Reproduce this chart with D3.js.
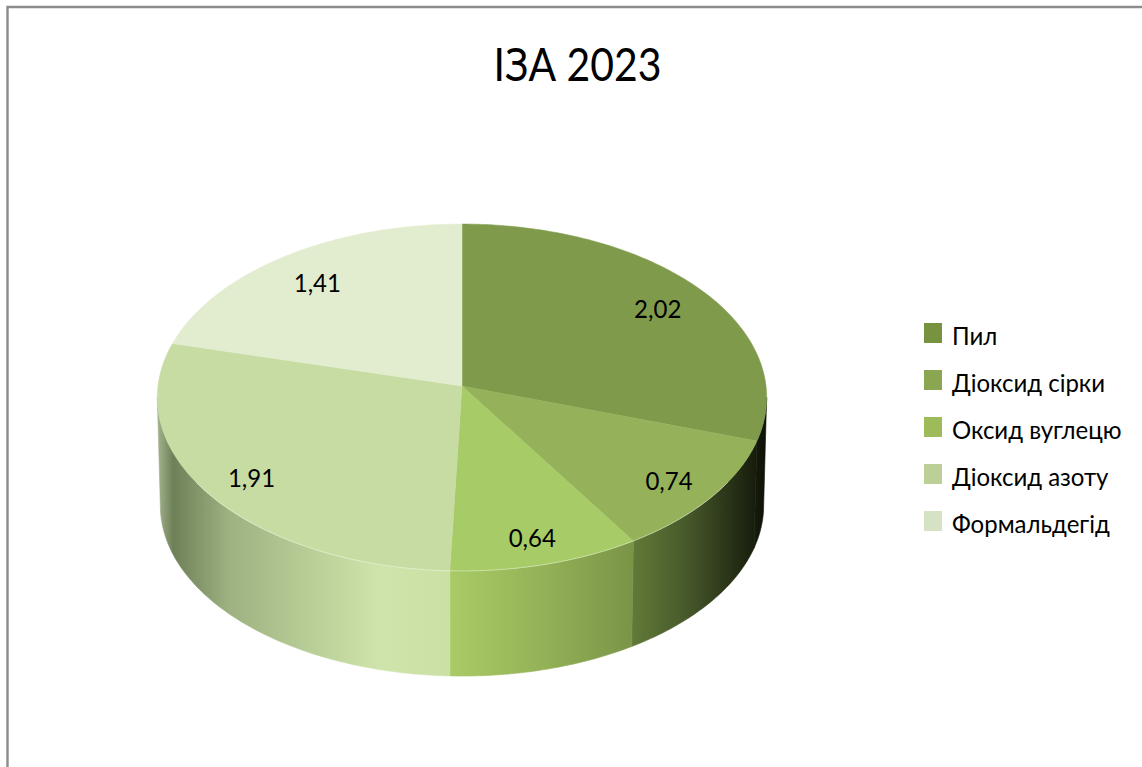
<!DOCTYPE html>
<html>
<head>
<meta charset="utf-8">
<script src="https://cdnjs.cloudflare.com/ajax/libs/d3/7.8.5/d3.min.js"></script>
<style>
  html, body { margin: 0; padding: 0; background: #fff; overflow: hidden; }
  text { font-family: Lato, "Noto Sans", sans-serif; fill: #000; }
</style>
</head>
<body>
<script>
// the data
var categories = ["Пил", "Діоксид сірки", "Оксид вуглецю", "Діоксид азоту", "Формальдегід"];
var values = [2.02, 0.74, 0.64, 1.91, 1.41];
var labels = ["2,02", "0,74", "0,64", "1,91", "1,41"];
var title = "ІЗА 2023";

// colours of the top faces, the legend and the side walls (wall stops read left to right)
var topColors = ["#7f9a4b", "#95b25b", "#a7cb66", "#c7dca2", "#e2edd0"];
var legendColors = ["#78933f", "#8ba650", "#9dbc59", "#bbcf97", "#d6e2c4"];
var wallStops = [
  [[0, "#161c0c"], [1, "#0c1006"]],
  [[0, "#627a38"], [0.45, "#46582a"], [0.85, "#232c14"], [1, "#161c0c"]],
  [[0, "#a9cb65"], [0.5, "#94b257"], [1, "#7a9447"]],
  [[0, "#a4b38e"], [0.055, "#6e8058"], [0.24, "#9db080"], [0.48, "#b5c994"], [0.76, "#cfe4aa"], [1, "#cbe0a5"]]
];
var labelRadius = [0.82, 0.835, 0.845, 0.835, 0.81];

var width = 1142, height = 767;

// the pie is a tilted disc seen in perspective
var cx = 462, topY = 386, bottomY = 494;
var topA = 304, topB = 172.7, bottomA = 301, bottomB = 170, persp = 0.0663;
var frontStart = 93.8 * Math.PI / 180, frontEnd = 266.2 * Math.PI / 180;

function project(angle, f, A, B, y0) {
  var c = Math.cos(angle) * f, sn = Math.sin(angle) * f;
  var s = 1 / (1 + persp * c);
  return [cx + s * A * sn, y0 - s * B * c];
}
function topPoint(angle, f) { return project(angle, f, topA, topB, topY); }
function bottomPoint(angle) { return project(angle, 1, bottomA, bottomB, bottomY); }

var line = d3.line();

function angleSteps(a0, a1) {
  var n = Math.max(2, Math.ceil((a1 - a0) * 180 / Math.PI));
  return d3.range(n + 1).map(function(i) { return a0 + (a1 - a0) * i / n; });
}

var pie = d3.pie().sort(null);
var slices = pie(values);

var svg = d3.select("body").append("svg")
    .attr("width", width)
    .attr("height", height);

svg.append("rect")
    .attr("width", width)
    .attr("height", height)
    .attr("fill", "#fff");

// the frame, open at the right and the bottom
svg.append("path")
    .attr("d", "M7.5," + height + "V7H" + width)
    .attr("fill", "none")
    .attr("stroke", "#8c8c8c")
    .attr("stroke-width", 2.4);

svg.append("text")
    .attr("transform", "translate(577.5,81) scale(0.89,1)")
    .attr("text-anchor", "middle")
    .style("font-size", "46px")
    .text(title);

var defs = svg.append("defs");

// the side walls, only the part that faces us
wallStops.forEach(function(stops, i) {
  var a0 = Math.max(slices[i].startAngle, frontStart);
  var a1 = Math.min(slices[i].endAngle, frontEnd);
  if (a1 <= a0) return;

  var grad = defs.append("linearGradient")
      .attr("id", "wall" + i);
  stops.forEach(function(st) {
    grad.append("stop")
        .attr("offset", st[0])
        .attr("stop-color", st[1]);
  });

  var steps = angleSteps(a0, a1);
  var pts = steps.map(function(a) { return topPoint(a, 1); })
      .concat(steps.slice().reverse().map(bottomPoint));
  svg.append("path")
      .attr("d", line(pts) + "Z")
      .attr("fill", "url(#wall" + i + ")")
      .attr("stroke", "url(#wall" + i + ")")
      .attr("stroke-width", 0.6);
});

// the top faces
slices.forEach(function(d, i) {
  var pts = [[cx, topY]].concat(angleSteps(d.startAngle, d.endAngle).map(function(a) { return topPoint(a, 1); }));
  svg.append("path")
      .attr("d", line(pts) + "Z")
      .attr("fill", topColors[i])
      .attr("stroke", topColors[i])
      .attr("stroke-width", 0.5);
});

// pale highlight along the front rim
svg.append("path")
    .attr("d", line(angleSteps(frontStart + 0.5, frontEnd - 0.5).map(function(a) { return topPoint(a, 1); })))
    .attr("fill", "none")
    .attr("stroke", "#fff")
    .attr("stroke-opacity", 0.4);

// the value labels
slices.forEach(function(d, i) {
  var p = topPoint((d.startAngle + d.endAngle) / 2, labelRadius[i]);
  svg.append("text")
      .attr("transform", "translate(" + p[0] + "," + (p[1] + 12) + ") scale(0.96,1)")
      .attr("text-anchor", "middle")
      .style("font-size", "25px")
      .text(labels[i]);
});

// the legend
var legendY = d3.scalePoint().domain(categories).range([333, 521]);

var legend = svg.selectAll(".legend")
    .data(categories)
  .enter().append("g")
    .attr("class", "legend")
    .attr("transform", function(d) { return "translate(924," + legendY(d) + ")"; });

legend.append("rect")
    .attr("y", -10)
    .attr("width", 18)
    .attr("height", 20)
    .attr("fill", function(d, i) { return legendColors[i]; });

legend.append("text")
    .attr("transform", "translate(28,12) scale(0.96,1)")
    .style("font-size", "25px")
    .text(function(d) { return d; });
</script>
</body>
</html>
